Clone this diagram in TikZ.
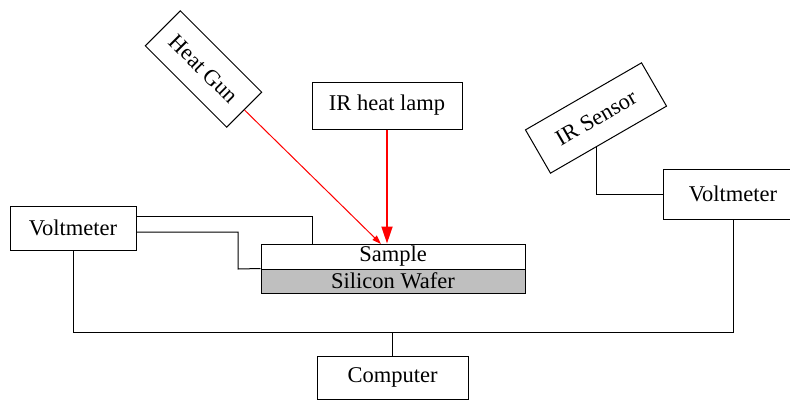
\documentclass[tikz,border=0pt]{standalone}
\usepackage{fontspec}
\setmainfont{Liberation Serif}
\usetikzlibrary{arrows.meta,calc}
\begin{document}
\begin{tikzpicture}[x=1pt,y=-1pt,
  box/.style={draw=black,line width=1pt,inner sep=0pt,align=center,font=\fontsize{22.5}{26}\selectfont},
  wire/.style={draw=black,line width=1pt},
  heatline/.style={draw=red,line width=1pt,-{Triangle[length=9pt,width=6pt]}},
  lampline/.style={draw=red,line width=1.8pt,-{Triangle[length=17pt,width=11pt]}}]
\clip (0,0) rectangle (790,400);
\useasboundingbox (0,0) rectangle (790,400);
% nodes
\node[box,minimum width=115pt,minimum height=49.5pt,rotate=-45] (hg) at (203.5,69) {Heat Gun};
\node[box,minimum width=150pt,minimum height=47pt] (lamp) at (387,105.5) {IR heat lamp};
\node[box,minimum width=134pt,minimum height=50pt,rotate=30] (irs) at (596,118) {IR Sensor};
\node[box,minimum width=126pt,minimum height=44pt] (vl) at (73,228) {Voltmeter};
\node[box,minimum width=140pt,minimum height=50pt] (vr) at (733,194) {Voltmeter};
\node[box,minimum width=264pt,minimum height=25pt] (sample) at (393,256.5) {Sample};
\node[box,fill=gray!50,minimum width=264pt,minimum height=24pt] (wafer) at (393,281) {Silicon Wafer};
\node[box,minimum width=151pt,minimum height=43pt] (comp) at (392.5,377.5) {Computer};
\coordinate (hit) at (381,244);
\coordinate (bus) at (73,332.5);
% wires
\draw[wire] (vl.east |- 0,216) -| (sample.north -| 312,0);
\draw[wire] (vl.east |- 0,232) -| (238,269) -- (wafer.north west);
\draw[wire] (vl.south) -- (bus) -| (vr.south);
\draw[wire] (comp.north) -- (comp.north |- bus);
\draw[wire] (irs) |- (vr.west);
% heat
\draw[heatline] (hg.east) -- (hit);
\draw[lampline] (lamp.south) -- (lamp.south |- sample.north);
\end{tikzpicture}
\end{document}
